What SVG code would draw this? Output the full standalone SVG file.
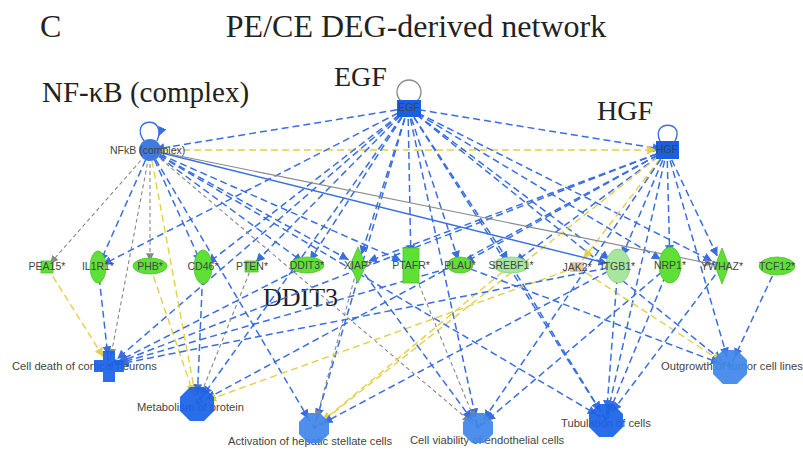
<svg xmlns="http://www.w3.org/2000/svg" width="803" height="453" viewBox="0 0 803 453">
<style>
.t{font-family:"Liberation Serif",serif;fill:#222}
.s{font-family:"Liberation Sans",Arial,sans-serif;font-size:10.5px;fill:#444}
.f{font-family:"Liberation Sans",Arial,sans-serif;font-size:11.2px;fill:#444}
.b{stroke:#3a6ee0;stroke-width:1.5;stroke-dasharray:7 4;fill:none}
.y{stroke:#e6cf48;stroke-width:1.4;stroke-dasharray:7 4;fill:none}
.g{stroke:#888;stroke-width:1.1;stroke-dasharray:4 3;fill:none}
.bs{stroke:#3a6ee0;stroke-width:1.4;fill:none}
.gs{stroke:#888;stroke-width:1.1;fill:none}
.gene{fill:#5fe036;stroke:#4cc22a;stroke-width:0.8}
.lgene{fill:#a8e6a0;stroke:#8ccc84;stroke-width:0.8}
.fd{fill:#1a62e6;fill-opacity:0.93}
.fl{fill:#3f86e8;fill-opacity:0.93}
</style>
<defs>
<marker id="ab" viewBox="0 0 10 10" refX="22" refY="5" markerWidth="9" markerHeight="9" markerUnits="userSpaceOnUse" orient="auto"><path d="M0,0 L10,5 L0,10 z" fill="#3a6ee0"/></marker>
<marker id="ay" viewBox="0 0 10 10" refX="22" refY="5" markerWidth="9" markerHeight="9" markerUnits="userSpaceOnUse" orient="auto"><path d="M0,0 L10,5 L0,10 z" fill="#e6cf48"/></marker>
<marker id="ag" viewBox="0 0 10 10" refX="22" refY="5" markerWidth="8" markerHeight="8" markerUnits="userSpaceOnUse" orient="auto"><path d="M0,0 L10,5 L0,10 z" fill="#888"/></marker>
<marker id="abg" viewBox="0 0 10 10" refX="16" refY="5" markerWidth="9" markerHeight="9" markerUnits="userSpaceOnUse" orient="auto"><path d="M0,0 L10,5 L0,10 z" fill="#3a6ee0"/></marker>
<marker id="agg" viewBox="0 0 10 10" refX="16" refY="5" markerWidth="8" markerHeight="8" markerUnits="userSpaceOnUse" orient="auto"><path d="M0,0 L10,5 L0,10 z" fill="#888"/></marker>
</defs>
<rect width="803" height="453" fill="#fff"/>
<text class="t" x="40" y="37" font-size="32">C</text>
<text class="t" x="416" y="37" font-size="32" text-anchor="middle">PE/CE DEG-derived network</text>
<text class="t" x="42" y="102" font-size="29">NF-κB (complex)</text>
<text class="t" x="334" y="86" font-size="28">EGF</text>
<text class="t" x="597" y="120" font-size="28">HGF</text>
<text class="t" x="263" y="306" font-size="26">DDIT3</text>
<g id="connectors">
<line class="b" x1="408" y1="108" x2="150" y2="150" marker-end="url(#abg)"/>
<line class="b" x1="408" y1="108" x2="667" y2="150" marker-end="url(#abg)"/>
<line class="y" x1="150" y1="150" x2="667" y2="150" marker-end="url(#ay)"/>
<line class="b" x1="408" y1="108" x2="98" y2="267" marker-end="url(#abg)"/>
<line class="b" x1="408" y1="108" x2="203" y2="267" marker-end="url(#abg)"/>
<line class="b" x1="408" y1="108" x2="252" y2="266" marker-end="url(#abg)"/>
<line class="b" x1="408" y1="108" x2="307" y2="265" marker-end="url(#abg)"/>
<line class="b" x1="408" y1="108" x2="358" y2="265" marker-end="url(#ab)"/>
<line class="b" x1="408" y1="108" x2="411" y2="265" marker-end="url(#ab)"/>
<line class="b" x1="408" y1="108" x2="460" y2="265" marker-end="url(#abg)"/>
<line class="b" x1="408" y1="108" x2="511" y2="265" marker-end="url(#abg)"/>
<line class="b" x1="408" y1="108" x2="618" y2="266" marker-end="url(#ab)"/>
<line class="b" x1="408" y1="108" x2="670" y2="265" marker-end="url(#ab)"/>
<line class="b" x1="408" y1="108" x2="722" y2="266" marker-end="url(#ab)"/>
<line class="b" x1="408" y1="108" x2="109" y2="366" marker-end="url(#ab)"/>
<line class="b" x1="408" y1="108" x2="197" y2="404" marker-end="url(#ab)"/>
<line class="b" x1="408" y1="108" x2="314" y2="428" marker-end="url(#ab)"/>
<line class="b" x1="408" y1="108" x2="478" y2="428" marker-end="url(#ab)"/>
<line class="b" x1="408" y1="108" x2="606" y2="420" marker-end="url(#ab)"/>
<line class="b" x1="408" y1="108" x2="730" y2="367" marker-end="url(#ab)"/>
<line class="b" x1="667" y1="150" x2="618" y2="266" marker-end="url(#ab)"/>
<line class="b" x1="667" y1="150" x2="670" y2="265" marker-end="url(#ab)"/>
<line class="b" x1="667" y1="150" x2="722" y2="266" marker-end="url(#ab)"/>
<line class="b" x1="667" y1="150" x2="511" y2="265" marker-end="url(#abg)"/>
<line class="b" x1="667" y1="150" x2="460" y2="265" marker-end="url(#abg)"/>
<line class="b" x1="667" y1="150" x2="358" y2="265" marker-end="url(#ab)"/>
<line class="y" x1="667" y1="150" x2="577" y2="267" marker-end="url(#ay)"/>
<line class="b" x1="667" y1="150" x2="109" y2="366" marker-end="url(#ab)"/>
<line class="b" x1="667" y1="150" x2="197" y2="404" marker-end="url(#ab)"/>
<line class="y" x1="667" y1="150" x2="314" y2="428" marker-end="url(#ay)"/>
<line class="b" x1="667" y1="150" x2="478" y2="428" marker-end="url(#ab)"/>
<line class="b" x1="667" y1="150" x2="606" y2="420" marker-end="url(#ab)"/>
<line class="b" x1="667" y1="150" x2="730" y2="367" marker-end="url(#ab)"/>
<line class="g" x1="150" y1="150" x2="47" y2="267" marker-end="url(#agg)"/>
<line class="b" x1="150" y1="150" x2="98" y2="267" marker-end="url(#abg)"/>
<line class="g" x1="150" y1="150" x2="150" y2="266" marker-end="url(#agg)"/>
<line class="b" x1="150" y1="150" x2="203" y2="267" marker-end="url(#abg)"/>
<line class="b" x1="150" y1="150" x2="307" y2="265" marker-end="url(#abg)"/>
<line class="b" x1="150" y1="150" x2="358" y2="265" marker-end="url(#ab)"/>
<line class="b" x1="150" y1="150" x2="411" y2="265" marker-end="url(#ab)"/>
<line class="bs" x1="150" y1="150" x2="618" y2="266" marker-end="url(#ab)"/>
<line class="gs" x1="150" y1="150" x2="722" y2="266" marker-end="url(#ag)"/>
<line class="g" x1="150" y1="150" x2="109" y2="366" marker-end="url(#ag)"/>
<line class="y" x1="150" y1="150" x2="197" y2="404" marker-end="url(#ay)"/>
<line class="b" x1="150" y1="150" x2="314" y2="428" marker-end="url(#ab)"/>
<line class="g" x1="150" y1="150" x2="478" y2="428" marker-end="url(#ag)"/>
<line class="b" x1="150" y1="150" x2="606" y2="420" marker-end="url(#ab)"/>
<line class="y" x1="47" y1="267" x2="109" y2="366" marker-end="url(#ay)"/>
<line class="b" x1="98" y1="267" x2="109" y2="366" marker-end="url(#ab)"/>
<line class="y" x1="150" y1="266" x2="197" y2="404" marker-end="url(#ay)"/>
<line class="b" x1="203" y1="267" x2="197" y2="404" marker-end="url(#ab)"/>
<line class="g" x1="252" y1="266" x2="197" y2="404" marker-end="url(#ag)"/>
<line class="b" x1="307" y1="265" x2="109" y2="366" marker-end="url(#ab)"/>
<line class="g" x1="358" y1="265" x2="314" y2="428" marker-end="url(#ag)"/>
<line class="g" x1="411" y1="265" x2="478" y2="428" marker-end="url(#ag)"/>
<line class="b" x1="460" y1="265" x2="109" y2="366" marker-end="url(#ab)"/>
<line class="y" x1="511" y1="265" x2="314" y2="428" marker-end="url(#ay)"/>
<line class="y" x1="577" y1="267" x2="197" y2="404" marker-end="url(#ay)"/>
<line class="y" x1="577" y1="267" x2="730" y2="367" marker-end="url(#ay)"/>
<line class="b" x1="618" y1="266" x2="606" y2="420" marker-end="url(#ab)"/>
<line class="b" x1="618" y1="266" x2="109" y2="366" marker-end="url(#ab)"/>
<line class="b" x1="618" y1="266" x2="314" y2="428" marker-end="url(#ab)"/>
<line class="b" x1="670" y1="265" x2="606" y2="420" marker-end="url(#ab)"/>
<line class="b" x1="670" y1="265" x2="478" y2="428" marker-end="url(#ab)"/>
<line class="b" x1="722" y1="266" x2="606" y2="420" marker-end="url(#ab)"/>
<line class="b" x1="777" y1="266" x2="730" y2="367" marker-end="url(#ab)"/>
<line class="b" x1="511" y1="265" x2="606" y2="420" marker-end="url(#ab)"/>
<line class="b" x1="460" y1="265" x2="730" y2="367" marker-end="url(#ab)"/>
<line class="b" x1="358" y1="265" x2="478" y2="428" marker-end="url(#ab)"/>
<path class="bs" d="M144,141 C128,118 168,114 157,141" marker-end="url(#abg)"/>
<circle cx="409" cy="92" r="12" fill="none" stroke="#888" stroke-width="1.3"/>
<path class="bs" d="M660,141 C650,120 686,120 675,141"/>
</g>
<g id="nfkb"><circle cx="150" cy="150" r="11" fill="#3d7be0"/><text class="s" x="110" y="154">NFkB (complex)</text></g>
<g id="egf"><rect x="397" y="100" width="24" height="17" fill="#1a5fe0"/><text class="s" x="409" y="111" text-anchor="middle" font-size="6">EGF</text></g>
<g id="hgf"><rect x="656" y="141" width="23" height="18" fill="#1a5fe0"/><text class="s" x="667" y="153" text-anchor="middle" font-size="6">HGF</text></g>
<g id="pea15"><rect x="41" y="261" width="12" height="12" class="gene"/><text class="s" x="47" y="270" text-anchor="middle">PEA15*</text></g>
<g id="il1r1"><ellipse cx="98" cy="267" rx="8" ry="16" class="gene"/><text class="s" x="98" y="270" text-anchor="middle">IL1R1*</text></g>
<g id="phb"><ellipse cx="150" cy="266" rx="17" ry="8" class="gene"/><text class="s" x="150" y="270" text-anchor="middle">PHB*</text></g>
<g id="cd46"><ellipse cx="203" cy="267" rx="9" ry="17" class="gene"/><text class="s" x="203" y="270" text-anchor="middle">CD46*</text></g>
<g id="pten"><rect x="245" y="261" width="13" height="11" class="gene"/><text class="s" x="252" y="270" text-anchor="middle">PTEN*</text></g>
<g id="ddit3"><ellipse cx="307" cy="265" rx="17" ry="8" class="gene"/><text class="s" x="307" y="269" text-anchor="middle">DDIT3*</text></g>
<g id="xiap"><path d="M358,247 L366,265 L358,283 L350,265 Z" class="gene"/><text class="s" x="358" y="269" text-anchor="middle">XIAP*</text></g>
<g id="ptafr"><rect x="403" y="248" width="16" height="35" class="gene"/><text class="s" x="411" y="269" text-anchor="middle">PTAFR*</text></g>
<g id="plau"><ellipse cx="460" cy="265" rx="13" ry="8" class="gene"/><text class="s" x="460" y="269" text-anchor="middle">PLAU*</text></g>
<g id="srebf1"><ellipse cx="511" cy="265" rx="18" ry="8" class="lgene"/><text class="s" x="511" y="269" text-anchor="middle">SREBF1*</text></g>
<g id="jak2"><rect x="570" y="262" width="14" height="10" fill="#e8c8a8"/><text class="s" x="577" y="271" text-anchor="middle">JAK2*</text></g>
<g id="itgb1"><ellipse cx="618" cy="266" rx="12" ry="17" class="lgene"/><text class="s" x="618" y="270" text-anchor="middle">ITGB1*</text></g>
<g id="nrp1"><ellipse cx="670" cy="265" rx="11" ry="18" class="gene"/><text class="s" x="670" y="269" text-anchor="middle">NRP1*</text></g>
<g id="ywhaz"><path d="M722,248 L729,266 L722,284 L715,266 Z" class="gene"/><text class="s" x="722" y="270" text-anchor="middle">YWHAZ*</text></g>
<g id="tcf12"><ellipse cx="777" cy="266" rx="18" ry="9" class="gene"/><text class="s" x="777" y="270" text-anchor="middle">TCF12*</text></g>
<g id="celldeath"><text class="f" x="12" y="370">Cell death of cortical neurons</text><path d="M103,351 h12 v9 h9 v12 h-9 v10 h-12 v-10 h-9 v-12 h9 z" class="fd"/></g>
<g id="metab"><text class="f" x="137" y="411">Metabolism of protein</text><path d="M190,387 h14 l10,10 v14 l-10,10 h-14 l-10,-10 v-14 z" class="fd"/></g>
<g id="activ"><text class="f" x="228" y="445">Activation of hepatic stellate cells</text><path d="M308,413 h12 l9,9 v12 l-9,9 h-12 l-9,-9 v-12 z" class="fl"/></g>
<g id="viab"><text class="f" x="410" y="444">Cell viability of endothelial cells</text><path d="M472,413 h12 l9,9 v12 l-9,9 h-12 l-9,-9 v-12 z" class="fl"/></g>
<g id="tubul"><text class="f" x="561" y="427">Tubulation of cells</text><path d="M599,404 h14 l10,10 v13 l-10,10 h-14 l-10,-10 v-13 z" class="fd"/></g>
<g id="outgr"><text class="f" x="661" y="370">Outgrowth of tumor cell lines</text><path d="M723,350 h14 l10,10 v14 l-10,10 h-14 l-10,-10 v-14 z" class="fl"/></g>
</svg>
